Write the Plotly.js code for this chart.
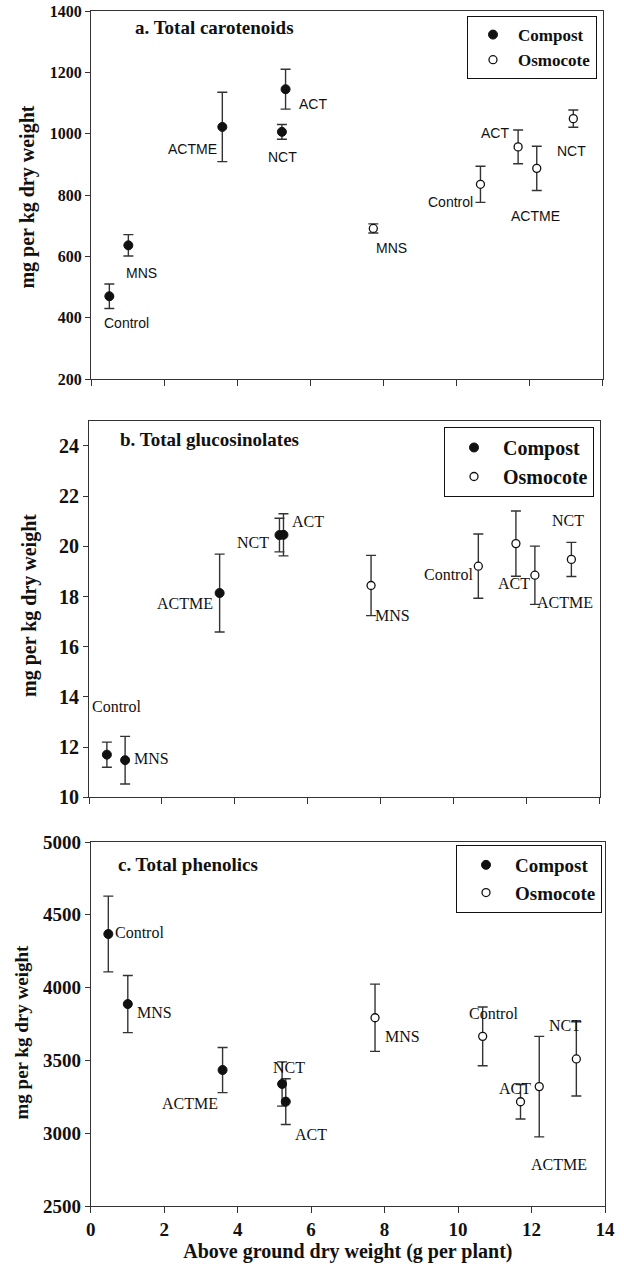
<!DOCTYPE html>
<html>
<head>
<meta charset="utf-8">
<script src="https://cdn.plot.ly/plotly-3.0.1.min.js"></script>
<style>
  html, body { margin: 0; padding: 0; background: #fff; }
  #chart { width: 624px; height: 1268px; }
</style>
</head>
<body>
<div id="chart"></div>
<script>
// ---------- DATA ----------
const labelsCompost = ['Control', 'MNS', 'ACTME', 'NCT', 'ACT'];
const labelsOsmo = ['MNS', 'Control', 'ACT', 'ACTME', 'NCT'];

// Panel a: Total carotenoids (mg per kg dry weight)
const xA_compost = [0.50, 1.02, 3.59, 5.22, 5.32];
const yA_compost = [470, 636, 1022, 1006, 1145];
const eA_compost = [40, 35, 113, 24, 65];
const xA_osmo = [7.72, 10.65, 11.68, 12.19, 13.19];
const yA_osmo = [691, 835, 957, 887, 1049];
const eA_osmo = [15, 59, 55, 72, 28];

// Panel b: Total glucosinolates
const xB_compost = [0.49, 0.99, 3.58, 5.22, 5.33];
const yB_compost = [11.70, 11.48, 18.14, 20.45, 20.46];
const eB_compost = [0.50, 0.95, 1.55, 0.67, 0.84];
const xB_osmo = [7.73, 10.67, 11.70, 12.22, 13.22];
const yB_osmo = [18.44, 19.21, 20.11, 18.85, 19.48];
const eB_osmo = [1.20, 1.28, 1.30, 1.16, 0.68];

// Panel c: Total phenolics
const xC_compost = [0.48, 1.01, 3.59, 5.21, 5.31];
const yC_compost = [4368, 3887, 3434, 3338, 3217];
const eC_compost = [260, 196, 155, 152, 157];
const xC_osmo = [7.74, 10.67, 11.70, 12.21, 13.22];
const yC_osmo = [3793, 3665, 3216, 3320, 3510];
const eC_osmo = [231, 202, 118, 345, 255];

const xTickVals = [0, 2, 4, 6, 8, 10, 12, 14];
const panelTitleTexts = ['a. Total carotenoids', 'b. Total glucosinolates', 'c. Total phenolics'];
const yTitleText = 'mg per kg dry weight';
const xTitleText = 'Above ground dry weight (g per plant)';

// ---------- STYLE (label pixel offsets relative to their point) ----------
const offA_compost = [[17, -27], [13, -28], [-30, -22], [1, -25], [27, -15]];
const offA_osmo = [[18, -20], [-30, -18], [-23, 14], [-1, -48], [-2, -32]];
const offB_compost = [[10, 48], [26, 2], [-35, -10], [-26, -7], [25, 13]];
const offB_osmo = [[21, -30], [-30, -8], [-2, -40], [30, -27], [-3, 39]];
const offC_compost = [[31, 2], [27, -8], [-33, -33], [7, 16], [25, -33]];
const offC_osmo = [[27, -19], [11, 23], [-6, 13], [20, -78], [-11, 33]];

const SERIF = 'Liberation Serif';
const SANS = 'Liberation Sans';
const INK = '#111';
const AX = '#333';

function traces(x, y, e, filled, xa, ya, leg, name) {
  return {
    type: 'scatter', mode: 'markers', name: name,
    x: x, y: y, xaxis: xa, yaxis: ya, legend: leg,
    error_y: { type: 'data', array: e, visible: true, color: AX, thickness: 1.4, width: 5 },
    marker: filled
      ? { symbol: 'circle', size: 9, color: INK, line: { color: INK, width: 1 } }
      : { symbol: 'circle', size: 8, color: '#fff', line: { color: INK, width: 1.3 } },
    hoverinfo: 'x+y'
  };
}

const data = [
  traces(xA_compost, yA_compost, eA_compost, true, 'x', 'y', 'legend', 'Compost'),
  traces(xA_osmo, yA_osmo, eA_osmo, false, 'x', 'y', 'legend', 'Osmocote'),
  traces(xB_compost, yB_compost, eB_compost, true, 'x2', 'y2', 'legend2', 'Compost'),
  traces(xB_osmo, yB_osmo, eB_osmo, false, 'x2', 'y2', 'legend2', 'Osmocote'),
  traces(xC_compost, yC_compost, eC_compost, true, 'x3', 'y3', 'legend3', 'Compost'),
  traces(xC_osmo, yC_osmo, eC_osmo, false, 'x3', 'y3', 'legend3', 'Osmocote')
];

const annotations = [];
function addLabels(xs, ys, labels, offs, xr, yr, family, size) {
  for (let i = 0; i < xs.length; i++) {
    annotations.push({
      x: xs[i], y: ys[i], xref: xr, yref: yr, text: labels[i], showarrow: false,
      xanchor: 'center', yanchor: 'middle', xshift: offs[i][0], yshift: offs[i][1],
      font: { family: family, size: size, color: INK }
    });
  }
}
addLabels(xA_compost, yA_compost, labelsCompost, offA_compost, 'x', 'y', SANS, 14);
addLabels(xA_osmo, yA_osmo, labelsOsmo, offA_osmo, 'x', 'y', SANS, 14);
addLabels(xB_compost, yB_compost, labelsCompost, offB_compost, 'x2', 'y2', SERIF, 16);
addLabels(xB_osmo, yB_osmo, labelsOsmo, offB_osmo, 'x2', 'y2', SERIF, 16);
addLabels(xC_compost, yC_compost, labelsCompost, offC_compost, 'x3', 'y3', SERIF, 16);
addLabels(xC_osmo, yC_osmo, labelsOsmo, offC_osmo, 'x3', 'y3', SERIF, 16);

// panel titles
const titlePos = [[0.244, 0.9858], [0.2326, 0.6418], [0.191, 0.2854]];
panelTitleTexts.forEach((t, i) => annotations.push({
  text: '<b>' + t + '</b>', x: titlePos[i][0], y: titlePos[i][1], xref: 'paper', yref: 'paper',
  showarrow: false, xanchor: 'center', yanchor: 'middle',
  font: { family: SERIF, size: 19, color: INK }
}));
// y-axis titles (fixed positions like the original figure)
const yTitlePos = [[-0.1182, 0.8439, 20], [-0.1143, 0.5021, 20], [-0.1318, 0.1452, 19]];
yTitlePos.forEach(p => annotations.push({
  text: '<b>' + yTitleText + '</b>', x: p[0], y: p[1], xref: 'paper', yref: 'paper',
  showarrow: false, xanchor: 'center', yanchor: 'middle', textangle: -90,
  font: { family: SERIF, size: p[2], color: INK }
}));

function xAxis(domain, anchor, labels) {
  return {
    domain: domain, anchor: anchor, range: [0, 14], tickvals: xTickVals,
    ticktext: xTickVals.map(String),
    showticklabels: labels, ticks: 'outside', ticklen: 6, tickwidth: 1, tickcolor: AX,
    showline: true, linecolor: AX, linewidth: 1, mirror: true,
    showgrid: false, zeroline: false, fixedrange: true,
    tickfont: { family: SERIF, size: 19, color: INK, weight: 'bold' }
  };
}
function yAxis(domain, anchor, range, dtick, tsize) {
  return {
    domain: domain, anchor: anchor, range: range, dtick: dtick, tick0: range[0],
    ticks: 'outside', ticklen: 5, tickwidth: 1, tickcolor: AX,
    showline: true, linecolor: AX, linewidth: 1, mirror: true,
    showgrid: false, zeroline: false, fixedrange: true,
    tickfont: { family: SERIF, size: tsize, color: INK, weight: 'bold' }
  };
}

function legendCfg(x, y, size, itemwidth, indent) {
  return {
    x: x, y: y, xref: 'paper', yref: 'paper', xanchor: 'right', yanchor: 'top',
    bgcolor: '#fff', bordercolor: INK, borderwidth: 1,
    font: { family: SERIF, size: size, color: INK, weight: 'bold' },
    itemwidth: itemwidth, indentation: indent, tracegroupgap: 0
  };
}

const layout = {
  width: 624, height: 1268,
  margin: { l: 89, r: 19, t: 11, b: 62 },
  paper_bgcolor: '#fff', plot_bgcolor: '#fff',
  font: { family: SERIF, color: INK },
  showlegend: true,
  xaxis: xAxis([0.004, 0.996], 'y', false),
  yaxis: yAxis([0.692, 1], 'x', [200, 1400], 200, 16),
  xaxis2: xAxis([0, 0.990], 'y2', false),
  yaxis2: yAxis([0.342, 0.657], 'x2', [10, 25], 2, 20),
  xaxis3: Object.assign(xAxis([0.0033, 1], 'y3', true), {
    title: { text: '<b>' + xTitleText + '</b>', font: { family: SERIF, size: 20, color: INK }, standoff: 4 }
  }),
  yaxis3: yAxis([0, 0.3046], 'x3', [2500, 5000], 500, 19),
  legend: legendCfg(0.9845, 0.9958, 17, 40, 0),
  legend2: legendCfg(0.9787, 0.6519, 20, 48, 0),
  legend3: legendCfg(0.9942, 0.3021, 19, 48, 0),
  annotations: annotations
};

Plotly.newPlot('chart', data, layout, { displayModeBar: false, staticPlot: true });
</script>
</body>
</html>
